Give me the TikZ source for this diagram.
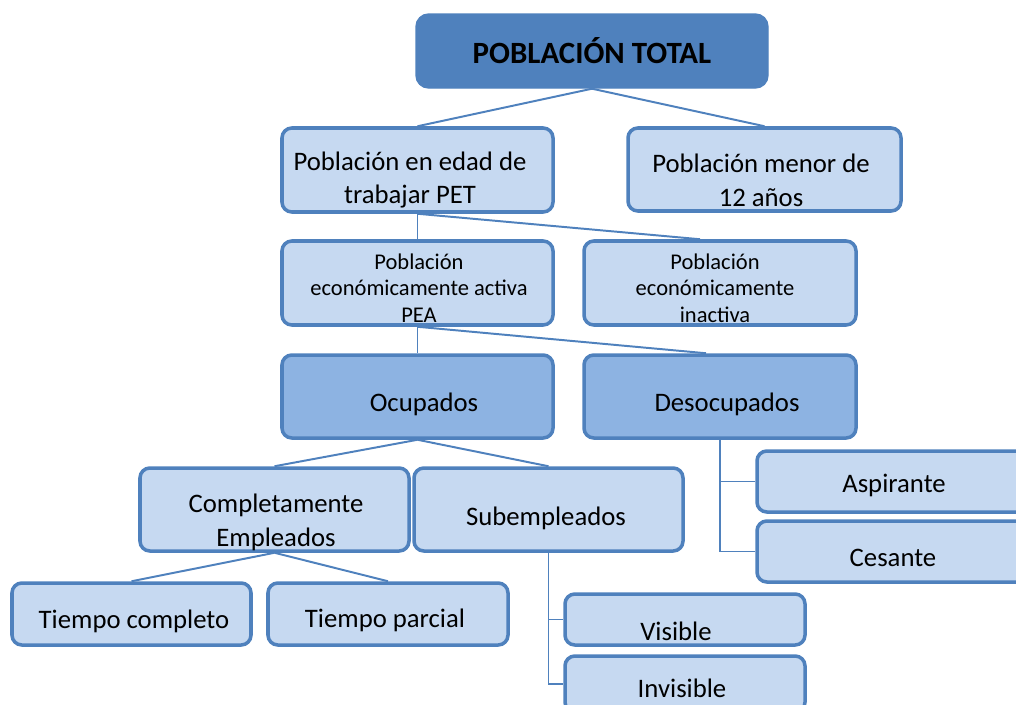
\documentclass[tikz,border=0pt]{standalone}
\usepackage{fontspec}
\setmainfont{Carlito}
\usetikzlibrary{fit, calc}
\definecolor{frame}{HTML}{4F81BD}
\definecolor{paleblue}{HTML}{C6D9F1}
\definecolor{midblue}{HTML}{8DB3E2}

\begin{document}
\begin{tikzpicture}[x=0.025cm, y=-0.025cm,
    box/.style={draw=frame, line width=2.5pt, fill=paleblue, rounded corners=7pt, inner sep=0pt},
    midbox/.style={box, fill=midblue},
    topbox/.style={draw=frame, line width=1pt, fill=frame, rounded corners=9pt, inner sep=0pt},
    txt/.style={align=center, font=\fontsize{19}{24}\selectfont, inner sep=0pt},
    smalltxt/.style={txt, font=\fontsize{16}{19}\selectfont},
    link/.style={draw=frame, line width=1.4pt}
]
\clip (0,0) rectangle (1016,704);

% Top level
\node[topbox, fit={(416,14) (768,88)}] (total) {};
\node[txt, font=\fontsize{22}{26}\selectfont\bfseries] (total-t) at (592,51) {POBLACIÓN TOTAL};

% Second level
\node[box, fit={(282,128) (553,212)}] (pet) {};
\node[txt] (pet-t) at (410,180) {Población en edad de\\trabajar PET};
\node[box, fit={(628,128) (901,211)}] (menor) {};
\node[txt] (menor-t) at (761,180) {Población menor de\\12 años};

% Third level
\node[box, fit={(282,241) (553,325)}] (pea) {};
\node[smalltxt] (pea-t) at (419,288) {Población\\económicamente activa\\PEA};
\node[box, fit={(584,241) (856,325)}] (inact) {};
\node[smalltxt] (inact-t) at (715,288) {Población\\económicamente\\inactiva};

% Ocupados / Desocupados
\node[midbox, fit={(282,355) (553,438)}] (ocup) {};
\node[txt] (ocup-t) at (424,404) {Ocupados};
\node[midbox, fit={(584,355) (856,438)}] (deso) {};
\node[txt] (deso-t) at (727,404) {Desocupados};

% Ocupados branch
\node[box, fit={(140,468) (409,551)}] (compl) {};
\node[txt] (compl-t) at (276,522) {Completamente\\Empleados};
\node[box, fit={(414,468) (683,551)}] (sub) {};
\node[txt] (sub-t) at (546,518) {Subempleados};

\node[box, fit={(12,583) (251,645)}] (tcomp) {};
\node[txt] (tcomp-t) at (134,621) {Tiempo completo};
\node[box, fit={(268,583) (508,645)}] (tparc) {};
\node[txt] (tparc-t) at (385,620) {Tiempo parcial};

\node[box, fit={(565,594) (805,645)}] (visib) {};
\node[txt] (visib-t) at (676,631) {Visible};
\node[box, fit={(565,656) (805,712)}] (invis) {};
\node[txt] (invis-t) at (682,688) {Invisible};

% Desocupados branch
\node[box, fit={(757,451) (1030,512)}] (aspir) {};
\node[txt] (aspir-t) at (894,485) {Aspirante};
\node[box, fit={(757,521) (1030,582)}] (cesan) {};
\node[txt] (cesan-t) at (893,558) {Cesante};

% Connectors
\draw[link] (total.south) -- (pet.north);
\draw[link] (total.south) -- (menor.north);
\draw[link] (pet.south) -- (pea.north);
\draw[link] (pet.south) -- ($(inact.north)+(-20,0)$);
\draw[link] (pea.south) -- (ocup.north);
\draw[link] (pea.south) -- ($(deso.north)+(-14,0)$);
\draw[link] (ocup.south) -- (compl.north);
\draw[link] (ocup.south) -- (sub.north);
\draw[link] (compl.south) -- (tcomp.north);
\draw[link] (compl.south) -- (tparc.north);
\draw[link] (deso.south) |- (aspir.west);
\draw[link] (deso.south) |- (cesan.west);
\draw[link] (sub.south) |- (visib.west);
\draw[link] (sub.south) |- (invis.west);

\end{tikzpicture}
\end{document}
